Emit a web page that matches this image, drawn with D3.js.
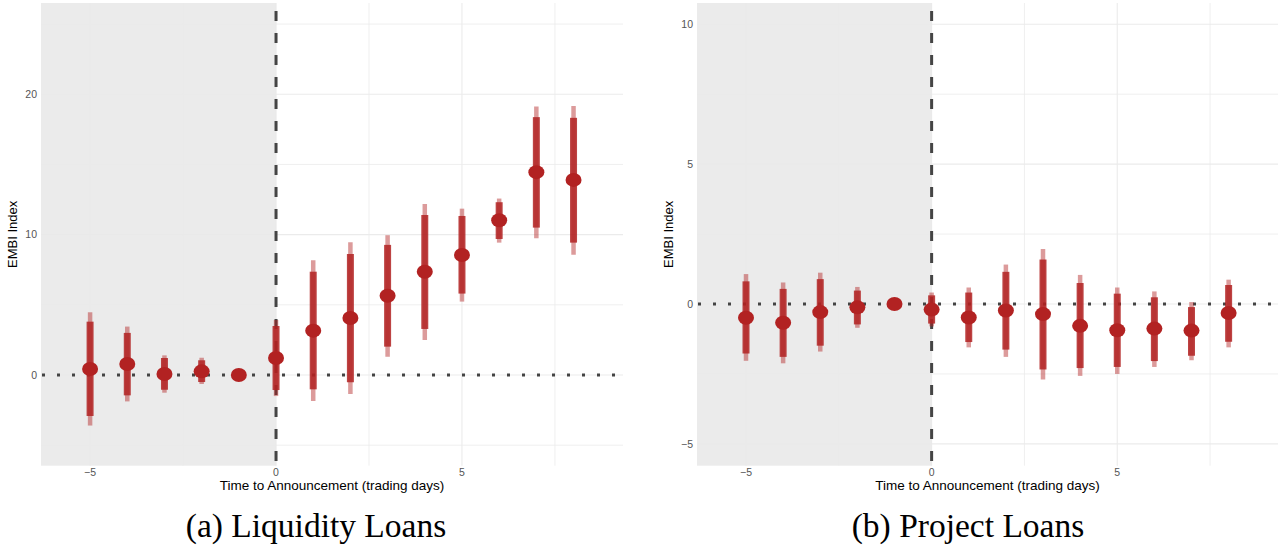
<!DOCTYPE html>
<html><head><meta charset="utf-8">
<script src="https://cdn.jsdelivr.net/npm/d3@7"></script>
<style>body{margin:0;background:#fff}svg{display:block}</style>
</head><body>
<svg id="c" width="1285" height="548"></svg>
<script>
// ---- data ----
const days = [-5,-4,-3,-2,-1,0,1,2,3,4,5,6,7,8];
// Liquidity loans
const liqEst   = [0.43,0.78,0.07,0.26,0,1.21,3.16,4.06,5.65,7.36,8.55,11.02,14.45,13.9];
const liqLo90  = [-2.92,-1.45,-1.05,-0.5,null,-1.07,-1.02,-0.52,2.02,3.28,5.8,9.69,10.5,9.43];
const liqHi90  = [3.8,3.0,1.21,1.05,null,3.49,7.36,8.62,9.27,11.4,11.33,12.31,18.37,18.32];
const liqLo95  = [-3.6,-1.88,-1.26,-0.64,null,-1.5,-1.85,-1.35,1.3,2.49,5.23,9.43,9.74,8.57];
const liqHi95  = [4.47,3.45,1.4,1.23,null,3.92,8.17,9.46,9.96,12.19,11.85,12.57,19.12,19.17];
// Project loans
const projEst  = [-0.49,-0.67,-0.29,-0.12,0,-0.2,-0.48,-0.23,-0.36,-0.78,-0.94,-0.88,-0.95,-0.32];
const projLo90 = [-1.77,-1.89,-1.49,-0.73,null,-0.7,-1.36,-1.63,-2.34,-2.29,-2.25,-2.04,-1.85,-1.35];
const projHi90 = [0.81,0.54,0.89,0.48,null,0.31,0.41,1.15,1.59,0.75,0.37,0.24,-0.11,0.68];
const projLo95 = [-2.03,-2.12,-1.7,-0.85,null,-0.8,-1.55,-1.89,-2.7,-2.57,-2.5,-2.25,-2.01,-1.55];
const projHi95 = [1.07,0.77,1.12,0.61,null,0.41,0.59,1.41,1.97,1.04,0.59,0.45,0.07,0.87];
const xTicks = [-5,0,5];
const liqYTicks = [0,10,20];
const projYTicks = [-5,0,5,10];
const xTitle = "Time to Announcement (trading days)";
const yTitle = "EMBI Index";
const captions = ["(a) Liquidity Loans","(b) Project Loans"];

const svg = d3.select("#c");
const RED = "#b22222";

function panel(opt){
  const {x0,x1,y0,y1,ydom,est,lo90,hi90,lo95,hi95,yTicks,yMinor,xMinor,caption,capX,yTitleX} = opt;
  const x = d3.scaleLinear().domain([-6.32,9.33]).range([x0,x1]);
  const y = d3.scaleLinear().domain(ydom).range([y1,y0]);
  const g = svg.append("g");
  // gridlines
  const grid = g.append("g").attr("stroke","#ebebeb");
  yTicks.forEach(v=>grid.append("line").attr("x1",x0).attr("x2",x1).attr("y1",y(v)).attr("y2",y(v)).attr("stroke-width",1.1));
  yMinor.forEach(v=>grid.append("line").attr("x1",x0).attr("x2",x1).attr("y1",y(v)).attr("y2",y(v)).attr("stroke-width",0.8));
  xTicks.forEach(v=>grid.append("line").attr("y1",y0).attr("y2",y1).attr("x1",x(v)).attr("x2",x(v)).attr("stroke-width",1.1));
  xMinor.forEach(v=>grid.append("line").attr("y1",y0).attr("y2",y1).attr("x1",x(v)).attr("x2",x(v)).attr("stroke-width",0.8));
  // shaded pre-period
  g.append("rect").attr("x",x0).attr("y",y0).attr("width",x(0)-x0).attr("height",y1-y0)
    .attr("fill","#e9e9e9").attr("opacity",0.9);
  // zero line dotted
  g.append("line").attr("x1",x0).attr("x2",x1).attr("y1",y(0)).attr("y2",y(0))
    .attr("stroke","#444").attr("stroke-width",3).attr("stroke-dasharray","3 12").attr("stroke-dashoffset",-1);
  // vertical dashed
  g.append("line").attr("x1",x(0)).attr("x2",x(0)).attr("y1",y0).attr("y2",y1+2)
    .attr("stroke","#444").attr("stroke-width",3).attr("stroke-dasharray","10 12").attr("stroke-dashoffset",-8);
  // bars
  days.forEach((d,i)=>{
    if(lo95[i]!==null){
      g.append("line").attr("x1",x(d)).attr("x2",x(d)).attr("y1",y(lo95[i])).attr("y2",y(hi95[i]))
        .attr("stroke",RED).attr("stroke-opacity",0.45).attr("stroke-width",4.5);
      g.append("line").attr("x1",x(d)).attr("x2",x(d)).attr("y1",y(lo90[i])).attr("y2",y(hi90[i]))
        .attr("stroke",RED).attr("stroke-opacity",0.85).attr("stroke-width",7);
    }
  });
  days.forEach((d,i)=>{
    g.append("ellipse").attr("cx",x(d)).attr("cy",y(est[i])).attr("rx",8).attr("ry",7).attr("fill",RED);
  });
  // axes labels
  const tx = g.append("g").attr("font-family","Liberation Sans, Arial, sans-serif").attr("font-size",10.5).attr("fill","#555555");
  xTicks.forEach(v=>tx.append("text").attr("x",x(v)).attr("y",y1+10).attr("text-anchor","middle").text(d3.format("")(v)));
  yTicks.forEach(v=>tx.append("text").attr("x",x0-4).attr("y",y(v)+3.8).attr("text-anchor","end").text(d3.format("")(v)));
  g.append("text").attr("x",(x0+x1)/2).attr("y",y1+24.5).attr("text-anchor","middle")
    .attr("font-family","Liberation Sans, Arial, sans-serif").attr("font-size",13.5).attr("fill","#000").text(xTitle);
  g.append("text").attr("transform",`translate(${yTitleX},${(y0+y1)/2}) rotate(-90)`).attr("text-anchor","middle")
    .attr("font-family","Liberation Sans, Arial, sans-serif").attr("font-size",13).attr("fill","#000").text(yTitle);
  svg.append("text").attr("x",capX).attr("y",537).attr("text-anchor","middle")
    .attr("font-family","Liberation Serif, serif").attr("font-size",33.5).attr("fill","#000").text(caption);
}

panel({x0:41,x1:623,y0:3,y1:465.7,ydom:[-6.46,26.5],est:liqEst,lo90:liqLo90,hi90:liqHi90,lo95:liqLo95,hi95:liqHi95,
  yTicks:liqYTicks,yMinor:[-5,5,15,25],xMinor:[-2.5,2.5,7.5],caption:captions[0],capX:316,yTitleX:17});
panel({x0:697,x1:1278,y0:3,y1:465.7,ydom:[-5.78,10.76],est:projEst,lo90:projLo90,hi90:projHi90,lo95:projLo95,hi95:projHi95,
  yTicks:projYTicks,yMinor:[-2.5,2.5,7.5],xMinor:[-2.5,2.5,7.5],caption:captions[1],capX:968,yTitleX:673});
</script>
</body></html>
